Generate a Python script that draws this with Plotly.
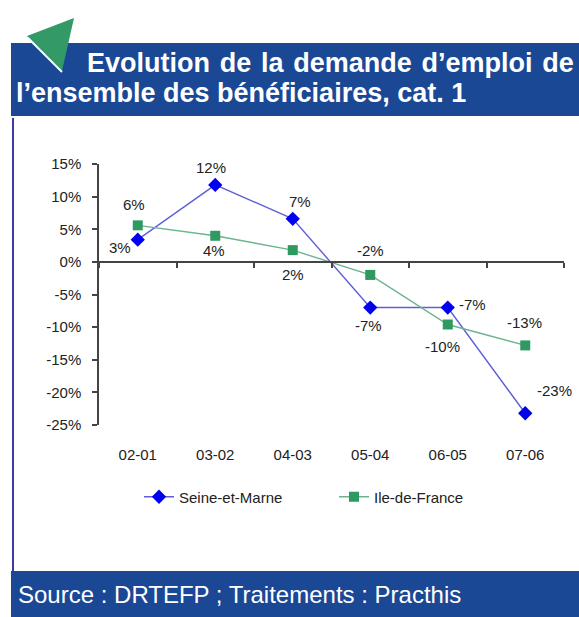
import plotly.graph_objects as go

# ---- data ----
categories = ["02-01", "03-02", "04-03", "05-04", "06-05", "07-06"]
seine_et_marne = [3.4, 11.8, 6.6, -7.0, -7.0, -23.2]
ile_de_france = [5.6, 4.0, 1.8, -2.0, -9.6, -12.8]
y_ticks = [15, 10, 5, 0, -5, -10, -15, -20, -25]

# ---- styling / layout constants ----
W, H = 579, 617
ML, MR, MT, MB = 99, 15, 164, 192
PW, PH = W - ML - MR, H - MT - MB
FONT = "Liberation Sans, Arial, sans-serif"
BLUE_BANNER = "#1B4895"
Y_MIN, Y_MAX = -25, 15


def fx(px):
    return (px - ML) / PW


def fy(py):
    return (H - MB - py) / PH


fig = go.Figure()

fig.add_trace(go.Scatter(
    x=categories, y=seine_et_marne, name="Seine-et-Marne", mode="lines+markers",
    line=dict(color="#5F5FD8", width=1.4),
    marker=dict(symbol="diamond", size=11, color="#0000F0"),
))
fig.add_trace(go.Scatter(
    x=categories, y=ile_de_france, name="Ile-de-France", mode="lines+markers",
    line=dict(color="#6DB38E", width=1.4),
    marker=dict(symbol="square", size=10, color="#2E9961"),
))
# invisible trace so the zero-line axis (x2) is drawn
fig.add_trace(go.Scatter(x=categories, y=[None] * len(categories), xaxis="x2",
                         showlegend=False, hoverinfo="skip", mode="lines"))

# data labels (offsets in pixels)
sem_offsets = [(-18, -8), (-4, 17), (7, 17), (-2, -18), (25, 3), (29, 23)]
idf_offsets = [(-4, 21), (-1, -15), (0, -24), (0, 24), (-5, -22), (-1, 23)]
annotations = []
for vals, offs in ((seine_et_marne, sem_offsets), (ile_de_france, idf_offsets)):
    for c, v, (dx, dy) in zip(categories, vals, offs):
        annotations.append(dict(
            x=c, y=v, xref="x", yref="y", text=f"{v:.0f}%", showarrow=False,
            xshift=dx, yshift=dy, font=dict(family=FONT, size=15, color="#222222"),
        ))

# title lines
SP = "\u00a0\u200a"
annotations.append(dict(
    x=fx(85), y=fy(63), xref="paper", yref="paper", xanchor="left", yanchor="middle",
    text="<b>" + SP.join(["Evolution", "de", "la", "demande", "d\u2019emploi", "de"]) + "</b>",
    showarrow=False, font=dict(family=FONT, size=27, color="white"),
))
annotations.append(dict(
    x=fx(14), y=fy(93), xref="paper", yref="paper", xanchor="left", yanchor="middle",
    text="<b>l\u2019ensemble des b\u00e9n\u00e9ficiaires, cat. 1</b>",
    showarrow=False, font=dict(family=FONT, size=27, color="white"),
))
annotations.append(dict(
    x=fx(16), y=fy(594), xref="paper", yref="paper", xanchor="left", yanchor="middle",
    text="Source : DRTEFP ; Traitements : Practhis",
    showarrow=False, font=dict(family=FONT, size=24, color="white"),
))

shapes = [
    # top banner
    dict(type="rect", xref="paper", yref="paper", x0=fx(11), x1=fx(579), y0=fy(116), y1=fy(43),
         fillcolor=BLUE_BANNER, line=dict(width=0), layer="below"),
    # bottom banner
    dict(type="rect", xref="paper", yref="paper", x0=fx(11), x1=fx(579), y0=fy(617), y1=fy(571),
         fillcolor=BLUE_BANNER, line=dict(width=0), layer="below"),
    # left border line
    dict(type="line", xref="paper", yref="paper", x0=fx(13), x1=fx(13), y0=fy(118), y1=fy(571),
         line=dict(color="#3B3BA8", width=2)),
    # green triangle
    dict(type="path", xref="paper", yref="paper",
         path=f"M {fx(27)},{fy(36)} L {fx(74)},{fy(18)} L {fx(62)},{fy(71)} Z",
         fillcolor="#339966", line=dict(width=0)),
    dict(type="line", xref="paper", yref="paper", x0=fx(28), y0=fy(38), x1=fx(62), y1=fy(72),
         line=dict(color="white", width=2)),
]

zero_pos = (0 - Y_MIN) / (Y_MAX - Y_MIN)

fig.update_layout(
    width=W, height=H, margin=dict(l=ML, r=MR, t=MT, b=MB, pad=0),
    paper_bgcolor="white", plot_bgcolor="white",
    font=dict(family=FONT, size=15, color="#222222"),
    showlegend=True,
    legend=dict(orientation="h", x=fx(139), y=fy(497), xanchor="left", yanchor="middle",
                font=dict(family=FONT, size=15, color="#222222"), entrywidth=150,
                bgcolor="rgba(0,0,0,0)", itemwidth=30, tracegroupgap=0),
    xaxis=dict(type="category", categoryarray=categories, range=[-0.5, 5.5],
               showline=False, showgrid=False, zeroline=False, ticks="",
               ticklabelstandoff=19, tickfont=dict(family=FONT, size=15, color="#222222")),
    xaxis2=dict(type="category", categoryarray=categories, range=[-0.5, 5.5],
                overlaying="x", anchor="free", position=zero_pos, side="bottom",
                showline=True, linecolor="#444444", linewidth=1.5,
                ticks="outside", tickson="boundaries", ticklen=5, tickcolor="#444444",
                tickwidth=1.5, showticklabels=False, showgrid=False, zeroline=False),
    yaxis=dict(range=[Y_MIN, Y_MAX], tickvals=y_ticks, ticktext=[f"{t}%" for t in y_ticks],
               showline=True, linecolor="#444444", linewidth=1.5, ticks="outside",
               ticklen=5, tickcolor="#444444", tickwidth=1.5, showgrid=False, zeroline=False,
               ticklabelstandoff=8, tickfont=dict(family=FONT, size=15, color="#222222")),
    annotations=annotations, shapes=shapes,
)

fig.write_html("out.html", config={"displayModeBar": False},
               post_script="document.body.style.margin='0';document.body.style.overflow='hidden';")
